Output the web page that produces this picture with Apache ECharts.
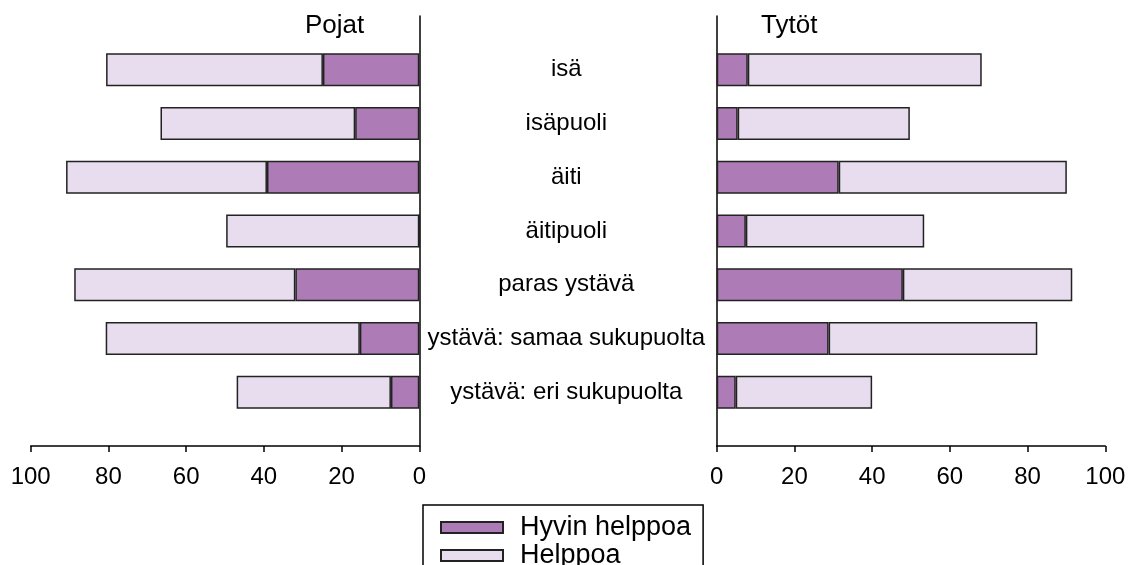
<!DOCTYPE html>
<html>
<head>
<meta charset="utf-8">
<script src="https://cdn.jsdelivr.net/npm/echarts@6/dist/echarts.min.js"></script>
<style>
  html, body { margin: 0; padding: 0; background: #fff; }
  #main { width: 1132px; height: 565px; }
</style>
</head>
<body>
<div id="main"></div>
<script>
// luokat ylhäältä alas
var categories = ['isä', 'isäpuoli', 'äiti', 'äitipuoli', 'paras ystävä', 'ystävä: samaa sukupuolta', 'ystävä: eri sukupuolta'];
// pojat (%)
var boysVeryEasy = [24.8, 16.5, 39.2, 0, 31.9, 15.3, 7.3];
var boysEasy = [55.8, 50.1, 51.7, 49.7, 56.9, 65.4, 39.7];
// tytöt (%)
var girlsVeryEasy = [8.0, 5.4, 31.4, 7.5, 47.9, 28.8, 4.9];
var girlsEasy = [60.2, 44.3, 58.7, 45.9, 43.6, 53.7, 35.1];
var xTicks = [0, 20, 40, 60, 80, 100];

var dark = '#ad7bb5', light = '#e8ddee', edge = '#222';
var font = 'Liberation Sans';

// tyhjä paikka ylös ja alas, niin akselit jatkuvat palkkien yli
function pad(arr, blank) { return [blank].concat(arr, [blank]); }
var cats = pad(categories, '');

function xAxis(grid, inverse) {
    return {
        type: 'value', gridIndex: grid, min: xTicks[0], max: xTicks[xTicks.length - 1],
        interval: xTicks[1] - xTicks[0], inverse: inverse,
        axisLine: { show: true, lineStyle: { color: '#000', width: 1.5 } },
        axisTick: { show: true, length: 6, lineStyle: { color: '#000', width: 1.5 } },
        splitLine: { show: false },
        axisLabel: { color: '#000', fontSize: 24, fontFamily: font, margin: 19 }
    };
}

function bar(name, grid, stack, data, color) {
    return {
        name: name, type: 'bar', xAxisIndex: grid, yAxisIndex: grid, stack: stack,
        data: pad(data, null), barWidth: 33,
        itemStyle: { color: color, borderColor: edge, borderWidth: 1.5 },
        emphasis: { disabled: true }
    };
}

var chart = echarts.init(document.getElementById('main'));
var option = {
    animation: false,
    title: [
        { text: 'Pojat', left: 300, top: 8, textStyle: { fontSize: 26, fontWeight: 'normal', color: '#000', fontFamily: font } },
        { text: 'Tytöt', left: 756, top: 8, textStyle: { fontSize: 26, fontWeight: 'normal', color: '#000', fontFamily: font } }
    ],
    legend: {
        orient: 'vertical', left: 423, top: 505, height: 90,
        padding: [9, 12, 30, 17],
        borderColor: '#000', borderWidth: 1.5,
        itemWidth: 62, itemHeight: 11, itemGap: 1,
        icon: 'rect',
        textStyle: { fontSize: 27, fontFamily: font, color: '#000', lineHeight: 22, padding: [0, 0, 0, 12] },
        data: ['Hyvin helppoa', 'Helppoa']
    },
    grid: [
        { left: 30.7, width: 388.6, top: 16, height: 430 },
        { left: 716.7, width: 388.6, top: 16, height: 430 }
    ],
    xAxis: [xAxis(0, true), xAxis(1, false)],
    yAxis: [
        {
            type: 'category', gridIndex: 0, data: cats, inverse: true, boundaryGap: false, position: 'right',
            axisLine: { show: true, lineStyle: { color: '#000', width: 1.5 } },
            axisTick: { show: false },
            axisLabel: { show: true, align: 'center', margin: 147, fontSize: 24, fontFamily: font, color: '#000' }
        },
        {
            type: 'category', gridIndex: 1, data: cats, inverse: true, boundaryGap: false, position: 'left',
            axisLine: { show: true, lineStyle: { color: '#000', width: 1.5 } },
            axisTick: { show: false },
            axisLabel: { show: false }
        }
    ],
    series: [
        bar('Hyvin helppoa', 0, 'boys', boysVeryEasy, dark),
        bar('Helppoa', 0, 'boys', boysEasy, light),
        bar('Hyvin helppoa', 1, 'girls', girlsVeryEasy, dark),
        bar('Helppoa', 1, 'girls', girlsEasy, light)
    ]
};
chart.setOption(option);
</script>
</body>
</html>
